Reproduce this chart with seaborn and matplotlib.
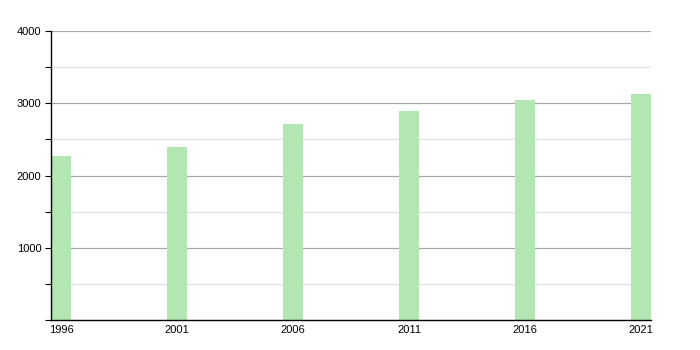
import matplotlib
matplotlib.use("Agg")
import matplotlib.pyplot as plt
import seaborn as sns
import pandas as pd
from matplotlib.ticker import MultipleLocator

years = [1996, 2001, 2006, 2011, 2016, 2021]
population = [2274, 2399, 2708, 2893, 3040, 3123]
y_ticks = [1000, 2000, 3000, 4000]

sns.set_style("white")
plt.rcParams['font.family'] = ['Liberation Sans', 'DejaVu Sans']

df = pd.DataFrame({"year": years, "pop": population})

fig = plt.figure(figsize=(7, 3.5), dpi=100)
ax = fig.add_axes([51/700, 1-320/350, 600/700, 289/350])

ax.yaxis.set_major_locator(MultipleLocator(1000))
ax.yaxis.set_minor_locator(MultipleLocator(500))
ax.grid(axis='y', which='major', color='#a8a8a8', linewidth=0.9, zorder=0)
ax.grid(axis='y', which='minor', color='#e0e0e0', linewidth=0.9, zorder=0)
ax.set_axisbelow(True)

sns.barplot(data=df, x="year", y="pop", native_scale=True, width=0.1724,
            color='#b2e6b2', saturation=1, ax=ax, zorder=2, errorbar=None,
            linewidth=0, edgecolor='none')

ax.set_xlim(1996 - 0.431, 2021 + 0.431)
ax.set_ylim(0, 4000)
ax.set_xticks(years)
ax.set_xticklabels([str(y) for y in years])
ax.set_yticks(y_ticks)
ax.set_xlabel("")
ax.set_ylabel("")

for s in ['top', 'right']:
    ax.spines[s].set_visible(False)
for s in ['left', 'bottom']:
    ax.spines[s].set_color('black')
    ax.spines[s].set_linewidth(1)

ax.tick_params(axis='y', which='both', left=True, length=4, width=0.8, color='black',
               labelsize=8, pad=3, labelcolor='black')
ax.tick_params(axis='x', which='both', bottom=False, labelsize=8, pad=0, labelcolor='black')

fig.savefig("out.png", dpi=100)
